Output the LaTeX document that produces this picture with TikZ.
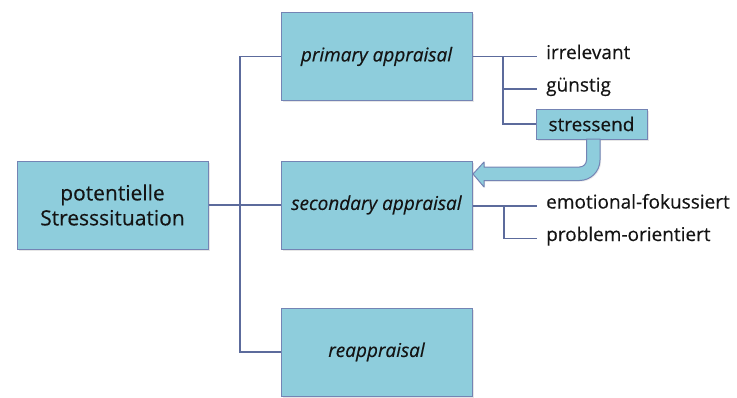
\documentclass[tikz,border=0pt]{standalone}
\usepackage{fontspec}
\setmainfont[FakeBold=0.35,BoldFont={Open Sans},ItalicFont={Open Sans Italic},BoldItalicFont={Open Sans Italic},BoldItalicFeatures={FakeBold=0.35}]{Open Sans}
\usetikzlibrary{shadows}
\definecolor{boxfill}{HTML}{8ECDDC}
\definecolor{boxline}{HTML}{7484B4}
\definecolor{conn}{HTML}{5C6B9C}
\definecolor{txt}{HTML}{141414}
\begin{document}
\begin{tikzpicture}[x=1pt,y=-1pt,
  bigbox/.style={draw=boxline,fill=boxfill,line width=1pt,minimum width=191pt,minimum height=88pt,
    inner sep=0pt,align=center,text=txt,font=\fontsize{19}{23}\selectfont\bfseries,
    drop shadow={shadow xshift=1.5pt,shadow yshift=-1.5pt,opacity=0.2}},
  smallbox/.style={draw=boxline,fill=boxfill,line width=1pt,minimum width=111pt,minimum height=30pt,
    inner sep=0pt,text=txt,font=\fontsize{19}{22}\selectfont\bfseries,
    drop shadow={shadow xshift=1.5pt,shadow yshift=-1.5pt,opacity=0.2}},
  lbl/.style={anchor=west,inner xsep=9pt,inner ysep=0pt,text height=0.72em,text depth=0.22em,
    text=txt,font=\fontsize{19}{22}\selectfont\bfseries},
  link/.style={draw=conn,line width=1.4pt}]
\useasboundingbox (0,0) rectangle (737,397);
% boxes
\node[bigbox,font=\fontsize{21}{25}\selectfont\bfseries] (pot) at (112.5,205) {potentielle\\Stresssituation};
\node[bigbox] (prim) at (376.5,56.5) {\itshape primary appraisal};
\node[bigbox] (sec) at (376.5,205) {\itshape secondary appraisal};
\node[bigbox] (re) at (376.5,352) {\itshape reappraisal};
% labels
\node[lbl] (irr) at (537,56.5) {irrelevant};
\node[lbl] (gue) at (537,89) {günstig};
\node[smallbox] (str) at (591.5,124) {stressend};
\node[lbl] (emo) at (537,206) {emotional-fokussiert};
\node[lbl] (prob) at (537,238.5) {problem-orientiert};
% left connectors
\coordinate (trunk) at (240,56.5);
\draw[link] (pot.east) -- (sec.west);
\draw[link] (prim.west) -- (trunk) |- (re.west);
% right connectors
\coordinate (b1) at (503,56.5);
\coordinate (b2) at (504,206);
\draw[link] (prim.east) -- (irr.west);
\draw[link] (b1) |- (gue.west);
\draw[link] (b1) |- (str.west);
\draw[link] (sec.east |- emo.west) -- (emo.west);
\draw[link] (b2) |- (prob.west);
% fat arrow
\path[draw=boxline,fill=boxfill,line width=1pt,line join=round,
  drop shadow={shadow xshift=1.2pt,shadow yshift=-1.2pt,opacity=0.15}]
  (586.5,139) -- (586.5,160) .. controls (586.5,163.87) and (583.37,167) .. (579.5,167)
  -- (484,167) -- (484,162) -- (473,174) -- (484,187) -- (484,180.5) -- (579.5,180.5)
  .. controls (590.82,180.5) and (600,171.32) .. (600,160) -- (600,139) -- cycle;
\end{tikzpicture}
\end{document}
